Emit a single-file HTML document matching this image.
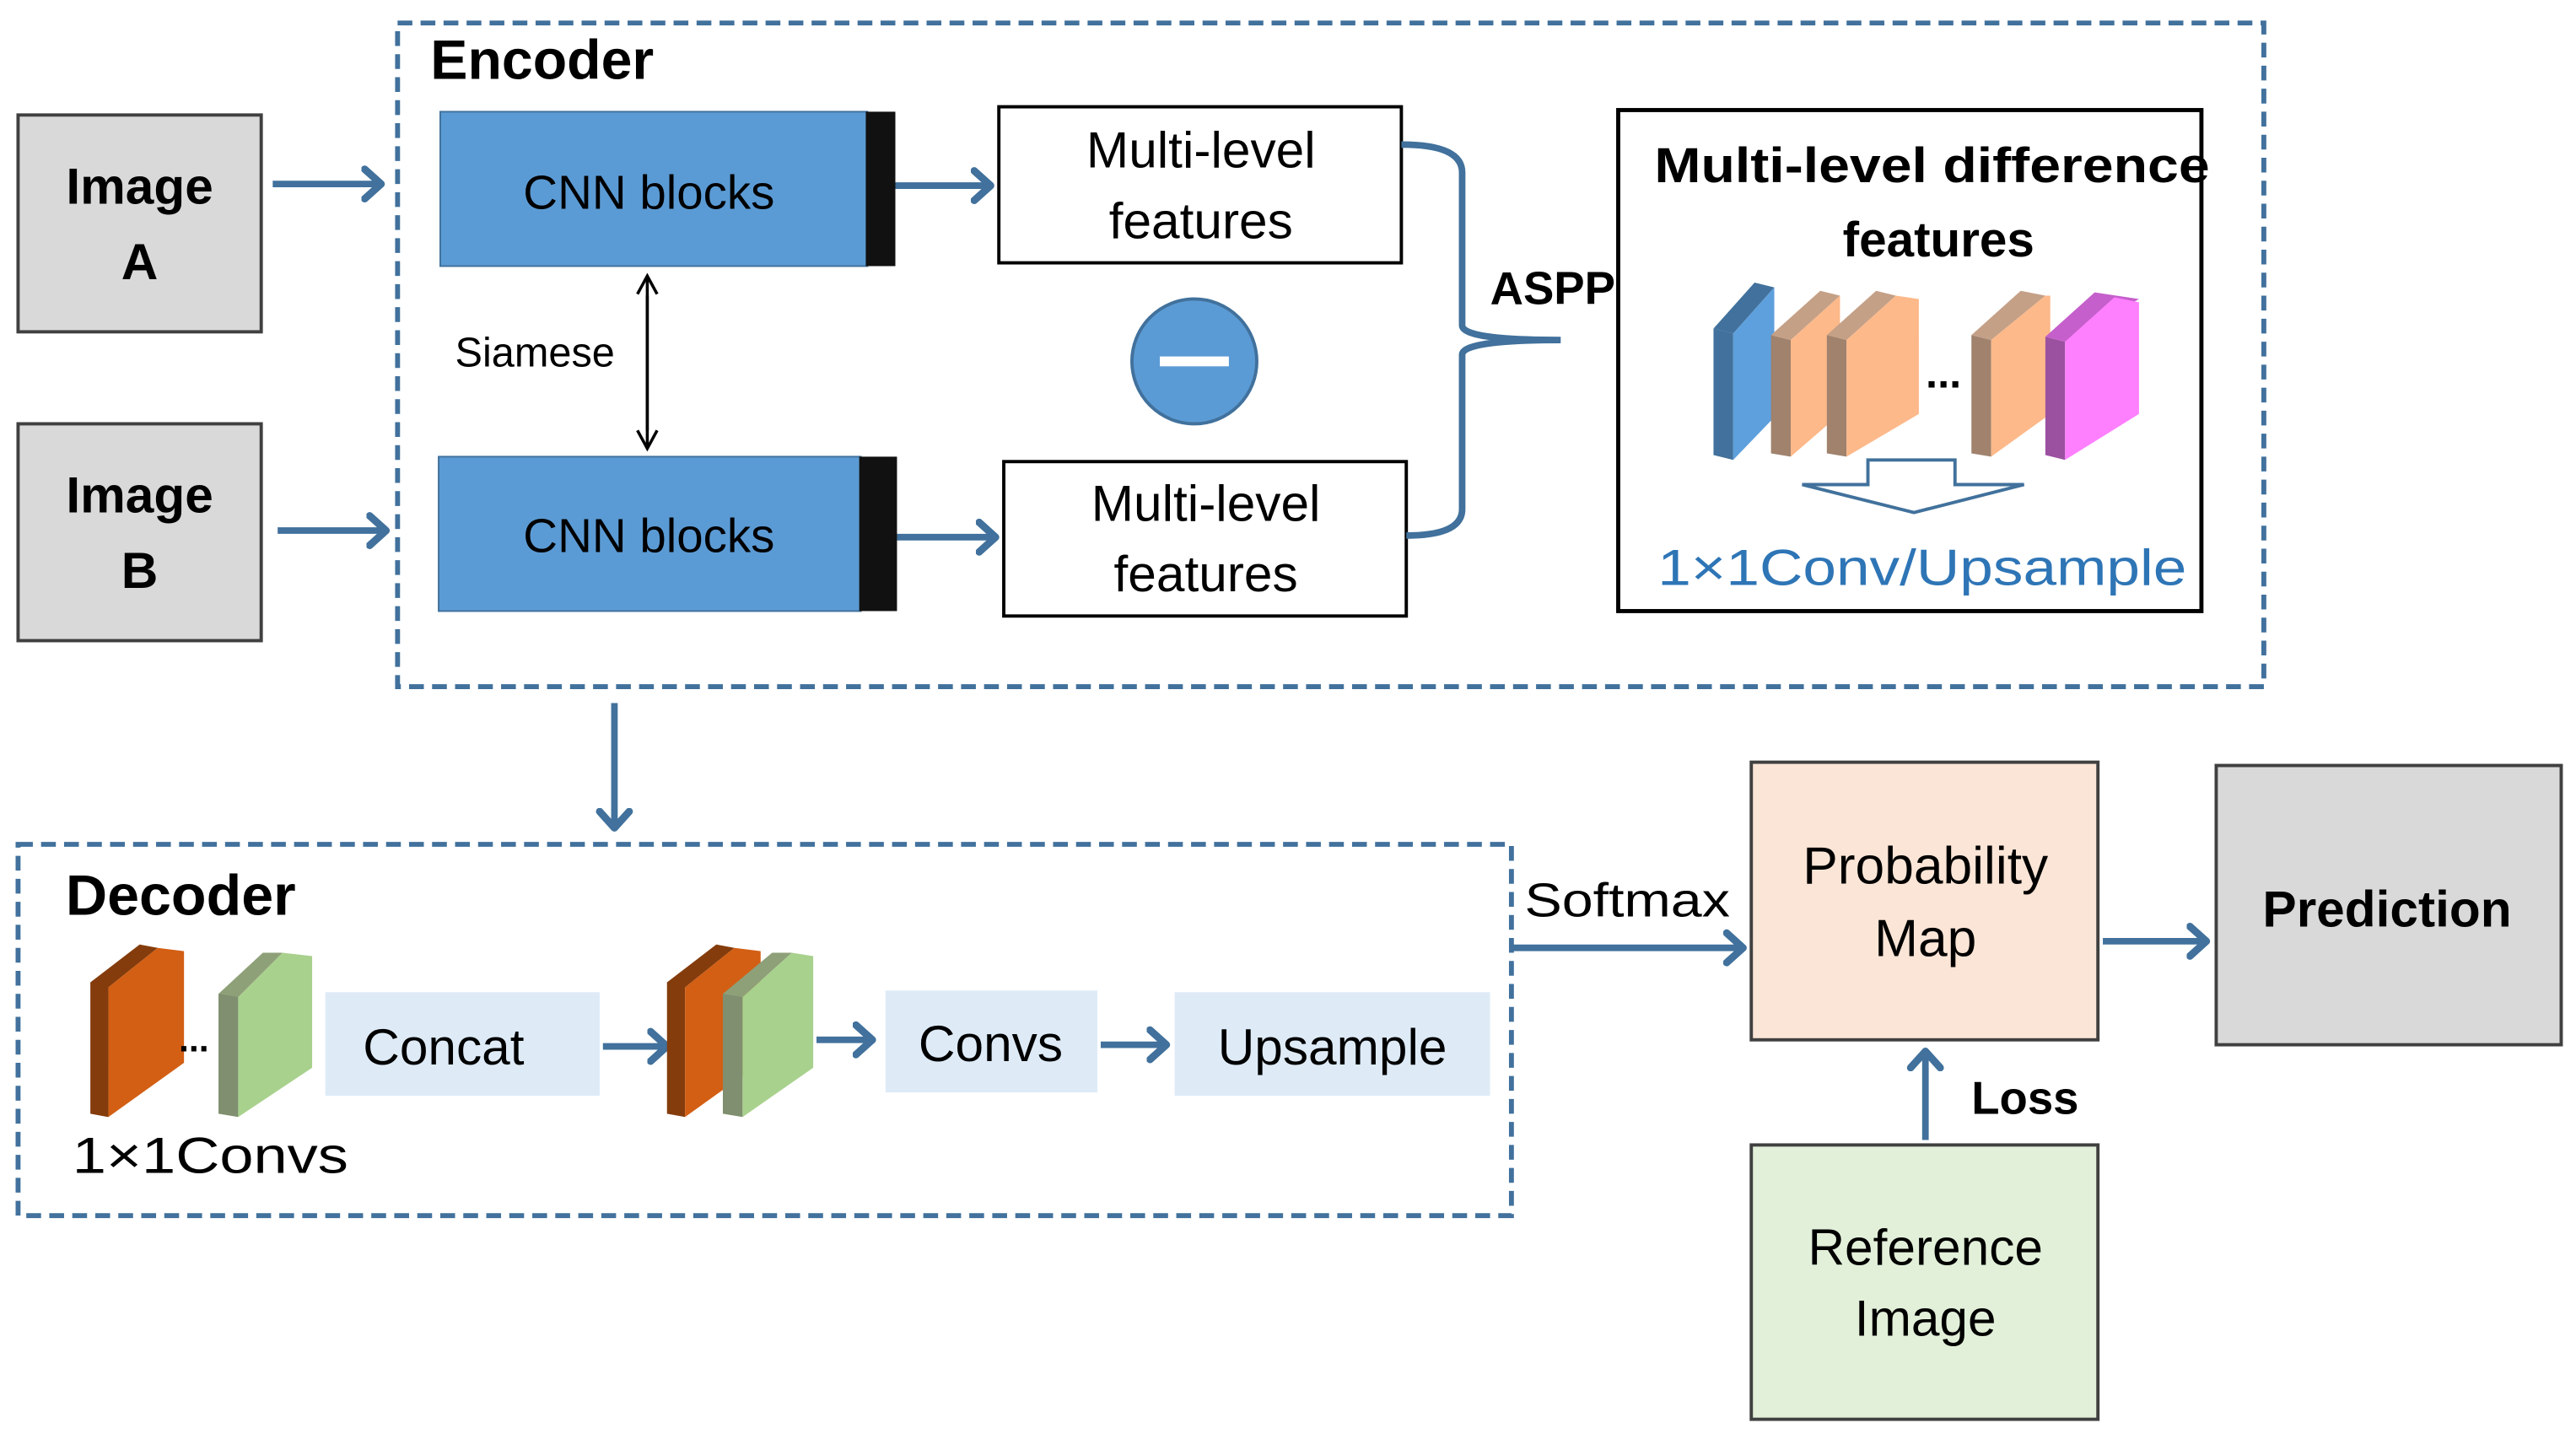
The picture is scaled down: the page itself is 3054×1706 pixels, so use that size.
<!DOCTYPE html>
<html><head><meta charset="utf-8"><style>
html,body{margin:0;padding:0;background:#fff;}
svg{display:block;}
text{font-family:"Liberation Sans",sans-serif;}
</style></head><body>
<svg width="3054" height="1706" viewBox="0 0 1568 876" preserveAspectRatio="none" xmlns="http://www.w3.org/2000/svg">
<defs>
<marker id="ah" markerWidth="20" markerHeight="24" refX="12" refY="12" orient="auto" markerUnits="userSpaceOnUse">
<path d="M2,3 L12,12 L2,21" fill="none" stroke="#41719c" stroke-width="4.5" stroke-linecap="round" stroke-linejoin="round"/>
</marker>
<marker id="bh" markerWidth="14" markerHeight="14" refX="12" refY="7" orient="auto" markerUnits="userSpaceOnUse">
<path d="M1,1 L12,7 L1,13" fill="none" stroke="#000" stroke-width="1.8"/>
</marker>
</defs>
<rect x="242" y="14" width="1136" height="404" fill="none" stroke="#41719c" stroke-width="3" stroke-dasharray="9,5"/>
<text x="262" y="48" font-size="34" font-weight="bold">Encoder</text>

<rect x="11" y="70" width="148" height="132" fill="#d9d9d9" stroke="#404040" stroke-width="2"/>
<text x="85" y="124" font-size="31" font-weight="bold" text-anchor="middle">Image</text>
<text x="85" y="170" font-size="31" font-weight="bold" text-anchor="middle">A</text>
<rect x="11" y="258" width="148" height="132" fill="#d9d9d9" stroke="#404040" stroke-width="2"/>
<text x="85" y="312" font-size="31" font-weight="bold" text-anchor="middle">Image</text>
<text x="85" y="358" font-size="31" font-weight="bold" text-anchor="middle">B</text>

<g stroke="#41719c" stroke-width="4" fill="none" marker-end="url(#ah)">
<line x1="166" y1="112" x2="232" y2="112"/>
<line x1="169" y1="323" x2="235" y2="323"/>
<line x1="540" y1="113" x2="603" y2="113"/>
<line x1="546" y1="327" x2="606" y2="327"/>
<line x1="374" y1="428" x2="374" y2="504"/>
<line x1="367" y1="637" x2="406" y2="637"/>
<line x1="497" y1="633" x2="531" y2="633"/>
<line x1="670" y1="636" x2="710" y2="636"/>
<line x1="920" y1="577" x2="1061" y2="577"/>
<line x1="1280" y1="573" x2="1343" y2="573"/>
<line x1="1172" y1="694" x2="1172" y2="640"/>
</g>

<rect x="268" y="68" width="260" height="94" fill="#5b9bd5" stroke="#41719c" stroke-width="1"/>
<rect x="527" y="68" width="18" height="94" fill="#111"/>
<text x="395" y="127" font-size="29" text-anchor="middle">CNN blocks</text>
<rect x="267" y="278" width="257" height="94" fill="#5b9bd5" stroke="#41719c" stroke-width="1"/>
<rect x="523" y="278" width="23" height="94" fill="#111"/>
<text x="395" y="336" font-size="29" text-anchor="middle">CNN blocks</text>

<line x1="394" y1="180" x2="394" y2="273" stroke="#000" stroke-width="1.8" marker-end="url(#bh)"/>
<line x1="394" y1="262" x2="394" y2="168" stroke="#000" stroke-width="1.8" marker-end="url(#bh)"/>
<text x="277" y="223" font-size="25">Siamese</text>

<rect x="608" y="65" width="245" height="95" fill="#fff" stroke="#000" stroke-width="2"/>
<text x="731" y="102" font-size="31" text-anchor="middle">Multi-level</text>
<text x="731" y="145" font-size="31" text-anchor="middle">features</text>
<rect x="611" y="281" width="245" height="94" fill="#fff" stroke="#000" stroke-width="2"/>
<text x="734" y="317" font-size="31" text-anchor="middle">Multi-level</text>
<text x="734" y="360" font-size="31" text-anchor="middle">features</text>

<circle cx="727" cy="220" r="38" fill="#5b9bd5" stroke="#41719c" stroke-width="2"/>
<rect x="706" y="217" width="42" height="6" fill="#fff"/>

<path d="M853,88 Q890,88 890,105 L890,198 Q890,207 950,207 Q890,207 890,216 L890,310 Q890,326 856,326" fill="none" stroke="#41719c" stroke-width="4"/>
<text x="907" y="185" font-size="28" font-weight="bold">ASPP</text>

<rect x="985" y="67" width="355" height="305" fill="#fff" stroke="#000" stroke-width="2.5"/>
<text x="1176" y="111" font-size="30" font-weight="bold" text-anchor="middle" textLength="338" lengthAdjust="spacingAndGlyphs">Multi-level difference</text>
<text x="1180" y="156" font-size="30" font-weight="bold" text-anchor="middle">features</text>

<g>
<polygon points="1043,200 1055,203 1055,280 1043,277" fill="#41719c"/>
<polygon points="1043,200 1068,172 1080,175 1055,203" fill="#41719c"/>
<polygon points="1055,203 1080,175 1080,254 1055,280" fill="#5ea0dd"/>
<polygon points="1078,204 1090,207 1090,278 1078,276" fill="#a0826d"/>
<polygon points="1078,204 1108,177 1120,180 1090,207" fill="#c4a087"/>
<polygon points="1090,207 1120,180 1120,252 1090,278" fill="#fdb98a"/>
<polygon points="1112,204 1124,207 1124,278 1112,276" fill="#a0826d"/>
<polygon points="1112,204 1142,177 1154,180 1124,207" fill="#c4a087"/>
<polygon points="1124,207 1154,180 1168,182 1168,252 1124,278" fill="#fdb98a"/>
<polygon points="1200,204 1212,207 1212,278 1200,276" fill="#a0826d"/>
<polygon points="1200,204 1230,177 1245,180 1212,207" fill="#c4a087"/>
<polygon points="1212,207 1245,180 1248,180 1248,252 1212,278" fill="#fdb98a"/>
<polygon points="1245,205 1257,208 1257,280 1245,277" fill="#9b51a0"/>
<polygon points="1245,205 1275,178 1302,182 1257,208" fill="#c55fcb"/>
<polygon points="1257,208 1287,181 1302,184 1302,252 1257,280" fill="#ff80ff"/>
</g>
<text x="1183" y="236" font-size="26" font-weight="bold" text-anchor="middle">...</text>
<polygon points="1137,280 1190,280 1190,295 1232,295 1165,312 1097,295 1137,295" fill="#fff" stroke="#41719c" stroke-width="2"/>
<text x="1170" y="356" font-size="31" fill="#2e75b6" text-anchor="middle" textLength="322" lengthAdjust="spacingAndGlyphs">1×1Conv/Upsample</text>

<rect x="11" y="514" width="909" height="226" fill="none" stroke="#41719c" stroke-width="3" stroke-dasharray="9,5"/>
<text x="40" y="557" font-size="35" font-weight="bold">Decoder</text>

<polygon points="55,598 66,594 66,680 55,678" fill="#843c0c"/>
<polygon points="55,598 85,575 96,577 66,601" fill="#843c0c"/>
<polygon points="66,601 96,577 112,579 112,647 66,680" fill="#d35f14"/>
<polygon points="133,605 145,602 145,680 133,678" fill="#7f8f6f"/>
<polygon points="133,605 160,580 172,580 145,607" fill="#8ea078"/>
<polygon points="145,607 172,580 190,582 190,650 145,680" fill="#a9d18e"/>
<text x="118" y="640" font-size="22" font-weight="bold" text-anchor="middle">...</text>

<rect x="198" y="604" width="167" height="63" fill="#deebf7"/>
<text x="270" y="648" font-size="31" text-anchor="middle">Concat</text>

<polygon points="406,598 417,594 417,680 406,678" fill="#843c0c"/>
<polygon points="406,598 436,575 447,577 417,601" fill="#843c0c"/>
<polygon points="417,601 447,577 463,579 463,647 417,680" fill="#d35f14"/>
<polygon points="440,605 452,602 452,680 440,678" fill="#7f8f6f"/>
<polygon points="440,605 470,580 482,580 452,607" fill="#8ea078"/>
<polygon points="452,607 482,580 495,582 495,650 452,680" fill="#a9d18e"/>

<rect x="539" y="603" width="129" height="62" fill="#deebf7"/>
<text x="603" y="646" font-size="31" text-anchor="middle">Convs</text>
<rect x="715" y="604" width="192" height="63" fill="#deebf7"/>
<text x="811" y="648" font-size="31" text-anchor="middle">Upsample</text>
<text x="44" y="714" font-size="31" textLength="168" lengthAdjust="spacingAndGlyphs">1×1Convs</text>

<text x="928" y="558" font-size="29" textLength="125" lengthAdjust="spacingAndGlyphs">Softmax</text>
<rect x="1066" y="464" width="211" height="169" fill="#fbe5d6" stroke="#404040" stroke-width="2"/>
<text x="1172" y="538" font-size="32" text-anchor="middle">Probability</text>
<text x="1172" y="582" font-size="32" text-anchor="middle">Map</text>

<rect x="1349" y="466" width="210" height="170" fill="#d9d9d9" stroke="#404040" stroke-width="2"/>
<text x="1453" y="564" font-size="31" font-weight="bold" text-anchor="middle">Prediction</text>

<rect x="1066" y="697" width="211" height="167" fill="#e2f0d9" stroke="#404040" stroke-width="2"/>
<text x="1172" y="770" font-size="31" text-anchor="middle">Reference</text>
<text x="1172" y="813" font-size="31" text-anchor="middle">Image</text>
<text x="1200" y="678" font-size="28" font-weight="bold">Loss</text>
</svg>
</body></html>
